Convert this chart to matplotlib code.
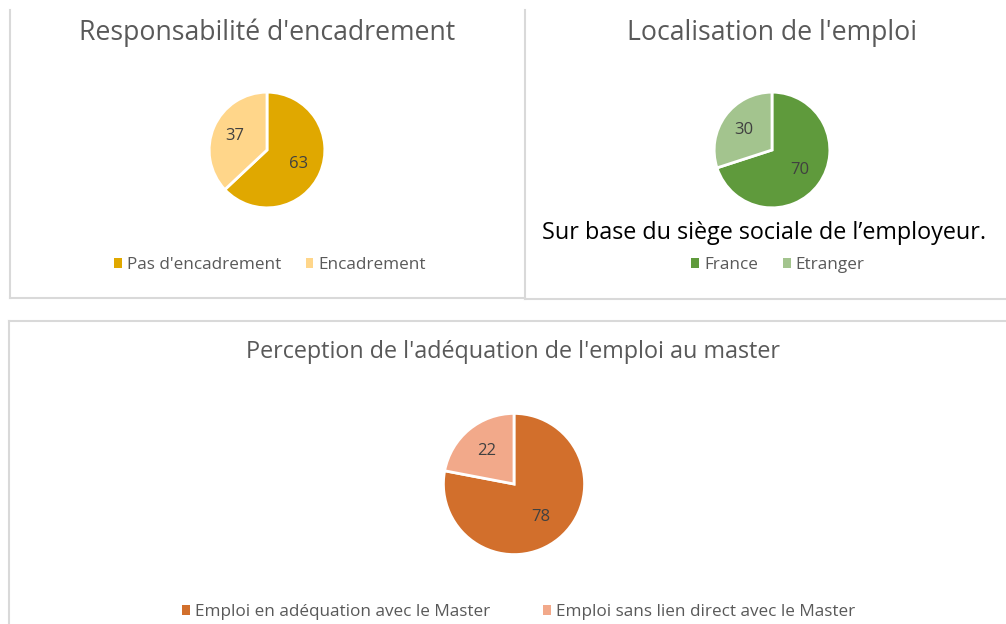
"""
Three Excel-style pie charts: encadrement, localisation, adequation au master
"""

import matplotlib
matplotlib.use('Agg')
from matplotlib import pyplot as plt
from matplotlib.lines import Line2D
from matplotlib.patches import Patch

plt.rcParams['font.family'] = ['Open Sans', 'DejaVu Sans']

W, H = 1006, 624

# data
enc_labels = ["Pas d'encadrement", "Encadrement"]
enc_values = [63, 37]
loc_labels = ["France", "Etranger"]
loc_values = [70, 30]
adq_labels = ["Emploi en adéquation avec le Master",
              "Emploi sans lien direct avec le Master"]
adq_values = [78, 22]

GREY_TXT = '#595959'
BORDER = '#d9d9d9'


def px_axes(fig, cx, cy, r):
    """axes (in pixels, origin top-left) holding a pie of radius r"""
    return fig.add_axes([(cx - r) / W, (H - cy - r) / H, 2 * r / W, 2 * r / H])


def draw_pie(ax, values, colors):
    ax.pie(values, colors=colors, startangle=90, counterclock=False,
           autopct=lambda p: f'{p:.0f}', pctdistance=0.6,
           wedgeprops=dict(edgecolor='white', linewidth=2),
           textprops=dict(color='#404040', fontsize=12))
    ax.set_xlim(-1.02, 1.02)
    ax.set_ylim(-1.02, 1.02)
    ax.set_aspect('equal')
    ax.axis('off')


def draw_legend(fig, labels, colors, x, y, fontsize=12.3, spacing=1.45):
    handles = [Patch(facecolor=c, edgecolor='none') for c in colors]
    fig.legend(handles, labels, loc='center', bbox_to_anchor=(x / W, 1 - y / H),
               ncol=len(labels), frameon=False, fontsize=fontsize,
               labelcolor=GREY_TXT, handlelength=0.45, handleheight=0.45,
               handletextpad=0.3, columnspacing=spacing)


def hline(fig, x0, x1, y):
    fig.add_artist(Line2D([x0 / W, x1 / W], [1 - y / H, 1 - y / H],
                          color=BORDER, linewidth=1.5))


def vline(fig, x, y0, y1):
    fig.add_artist(Line2D([x / W, x / W], [1 - y0 / H, 1 - y1 / H],
                          color=BORDER, linewidth=1.5))


fig = plt.figure(figsize=(W / 100, H / 100), dpi=100)

# panel borders
vline(fig, 10, 10, 298)
hline(fig, 10, 525, 298)
vline(fig, 525, 10, 299)
hline(fig, 525, W, 299)
vline(fig, 9, 321, H)
hline(fig, 9, W, 321)

# panel 1
enc_colors = ['#e0a800', '#ffd68a']
fig.text(267 / W, 1 - 33 / H, "Responsabilité d'encadrement",
         ha='center', va='center', fontsize=19.2, color=GREY_TXT)
draw_pie(px_axes(fig, 267, 150, 59), enc_values, enc_colors)
draw_legend(fig, enc_labels, enc_colors, 270, 265)

# panel 2
loc_colors = ['#5f9a3c', '#a3c48e']
fig.text(772 / W, 1 - 33 / H, "Localisation de l'emploi",
         ha='center', va='center', fontsize=19.2, color=GREY_TXT)
draw_pie(px_axes(fig, 772, 150, 59), loc_values, loc_colors)
fig.text(764 / W, 1 - 233 / H, "Sur base du siège sociale de l’employeur.",
         ha='center', va='center', fontsize=16.8, color='black')
draw_legend(fig, loc_labels, loc_colors, 778, 265)

# panel 3
adq_colors = ['#d26f2c', '#f2a98a']
fig.text(513 / W, 1 - 352 / H, "Perception de l'adéquation de l'emploi au master",
         ha='center', va='center', fontsize=16.8, color=GREY_TXT)
draw_pie(px_axes(fig, 514, 484, 72), adq_values, adq_colors)
draw_legend(fig, adq_labels, adq_colors, 519, 612, spacing=3.1)

fig.savefig('out.png', dpi=100)
